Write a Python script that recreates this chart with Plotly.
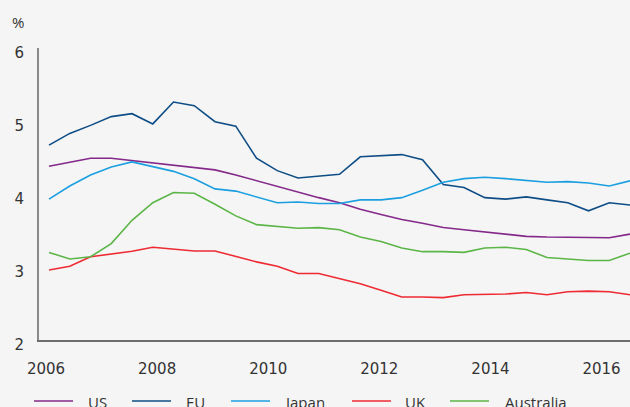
import plotly.graph_objects as go

# ---- data ----
years = [2006.054, 2006.428, 2006.801, 2007.175, 2007.548, 2007.922, 2008.295,
         2008.669, 2009.042, 2009.416, 2009.789, 2010.163, 2010.536, 2010.910,
         2011.283, 2011.657, 2012.030, 2012.404, 2012.777, 2013.151, 2013.524,
         2013.898, 2014.271, 2014.645, 2015.018, 2015.392, 2015.765, 2016.139,
         2016.512]

us = [4.38, 4.44, 4.49, 4.49, 4.46, 4.43, 4.40, 4.37, 4.33, 4.26, 4.18, 4.11,
      4.03, 3.95, 3.88, 3.79, 3.72, 3.65, 3.60, 3.54, 3.51, 3.48, 3.44, 3.42,
      3.41, 3.41, 3.40, 3.40, 3.45]
eu = [4.67, 4.83, 4.94, 5.06, 5.10, 4.96, 5.26, 5.21, 4.99, 4.93, 4.49, 4.32,
      4.22, 4.25, 4.27, 4.51, 4.52, 4.54, 4.47, 4.13, 4.09, 3.95, 3.93, 3.96,
      3.92, 3.88, 3.77, 3.88, 3.85]
japan = [3.93, 4.11, 4.26, 4.37, 4.44, 4.37, 4.31, 4.21, 4.07, 4.04, 3.96, 3.88,
         3.89, 3.87, 3.87, 3.92, 3.92, 3.95, 4.05, 4.16, 4.21, 4.23, 4.21, 4.19,
         4.16, 4.17, 4.15, 4.11, 4.18]
uk = [2.96, 3.01, 3.14, 3.18, 3.215, 3.27, 3.25, 3.22, 3.22, 3.14, 3.07, 3.01,
      2.91, 2.91, 2.84, 2.77, 2.68, 2.59, 2.59, 2.58, 2.62, 2.62, 2.63, 2.65,
      2.62, 2.66, 2.67, 2.66, 2.62]
australia = [3.20, 3.11, 3.14, 3.32, 3.64, 3.88, 4.02, 4.01, 3.86, 3.70, 3.58, 3.55,
             3.53, 3.54, 3.51, 3.41, 3.35, 3.26, 3.21, 3.21, 3.20, 3.26, 3.27, 3.24,
             3.13, 3.11, 3.09, 3.09, 3.19]

series_names = ["US", "EU", "Japan", "UK", "Australia"]
series_values = [us, eu, japan, uk, australia]
series_colors = ["#84288a", "#0e4d86", "#1b9fe0", "#ee2a33", "#5cb547"]

x_ticks = [2006, 2008, 2010, 2012, 2014, 2016]
y_ticks = [2, 3, 4, 5, 6]
y_unit_label = "%"

# ---- layout constants (pixels) ----
W, H = 630, 407
ML, MR, MT, MB = 39, 0, 48, 67
PW, PH = W - ML - MR, H - MT - MB
FONT = "Open Sans"
TICK_FONT = "DejaVu Sans"
TEXT_COLOR = "#333333"
BG = "#f5f5f5"

fig = go.Figure()
for name, vals, col in zip(series_names, series_values, series_colors):
    fig.add_trace(go.Scatter(x=years, y=vals, mode="lines", name=name,
                             line=dict(color=col, width=1.6), showlegend=False))

# manual legend (line 40px, gap, text)
leg_line_x = [34, 132, 231, 352, 450]
leg_text_x = [86, 184, 282, 403, 503]
leg_y = 401


def px_x(p):
    return (p - ML) / PW


def px_y(p):
    return (H - MB - p) / PH


shapes = []
annotations = []
for name, col, lx, tx in zip(series_names, series_colors, leg_line_x, leg_text_x):
    shapes.append(dict(type="line", xref="paper", yref="paper",
                       x0=px_x(lx), x1=px_x(lx + 39), y0=px_y(leg_y), y1=px_y(leg_y),
                       line=dict(color=col, width=1.6)))
    annotations.append(dict(text=name, xref="paper", yref="paper",
                            x=px_x(tx), y=px_y(leg_y + 1), xanchor="left", yanchor="middle",
                            showarrow=False, font=dict(family=FONT, size=15, color=TEXT_COLOR)))

annotations.append(dict(text=y_unit_label, xref="paper", yref="paper",
                        x=px_x(18), y=px_y(22), xanchor="center", yanchor="middle",
                        showarrow=False, font=dict(family=FONT, size=15, color=TEXT_COLOR)))

fig.update_layout(
    width=W, height=H,
    margin=dict(l=ML, r=MR, t=MT, b=MB, pad=0),
    paper_bgcolor=BG, plot_bgcolor=BG,
    font=dict(family=FONT, size=15, color=TEXT_COLOR),
    shapes=shapes, annotations=annotations,
    xaxis=dict(range=[2005.874, 2016.512], tickvals=x_ticks,
               ticktext=[str(t) for t in x_ticks], showgrid=False, zeroline=False,
               showline=True, linecolor="#6e6e6e", linewidth=2, ticks="",
               ticklabelstandoff=14, tickfont=dict(family=TICK_FONT, size=15)),
    yaxis=dict(range=[2, 6], tickvals=y_ticks, showgrid=False, zeroline=False,
               showline=True, linecolor="#8a8a8a", linewidth=2, ticks="",
               ticklabelstandoff=10, ticklabelshift=5,
               tickfont=dict(family=TICK_FONT, size=15)),
)

fig.write_html("out.html", config={"displayModeBar": False},
               post_script="document.body.style.margin='0';document.body.style.overflow='hidden';")
